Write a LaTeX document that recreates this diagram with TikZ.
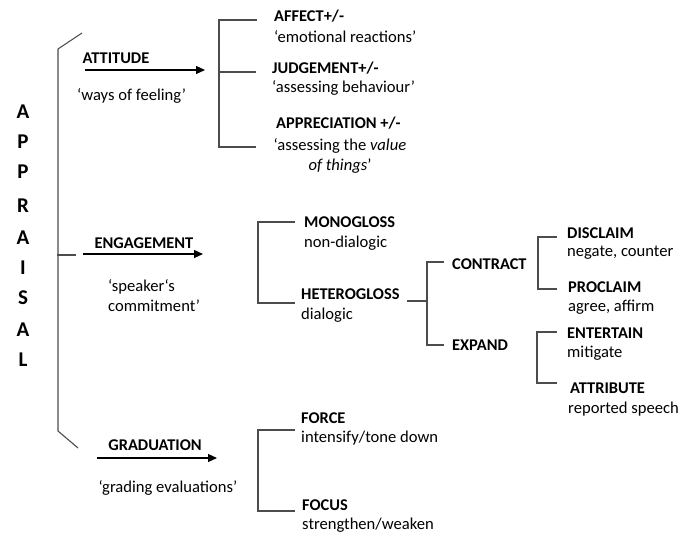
\documentclass[tikz,border=0pt]{standalone}
\usepackage{fontspec}
\setmainfont{Carlito}
\usetikzlibrary{arrows.meta}
\tikzset{
  brk/.style={draw=black!70, line width=1.1pt},
  arr/.style={draw=black, line width=1.1pt, -{Triangle[length=9pt,width=8pt]}},
  ttl/.style={font=\fontsize{16.4}{18}\selectfont\bfseries, inner sep=0pt, anchor=west},
  dsc/.style={font=\fontsize{16.6}{20}\selectfont, inner sep=0pt, anchor=west},
  big/.style={font=\fontsize{21}{22}\selectfont\bfseries, inner sep=0pt}
}
\begin{document}
\begin{tikzpicture}[x=1pt,y=-1pt]
\useasboundingbox (0,0) rectangle (687,541);
% APPRAISAL
\foreach \l/\yy [count=\i] in {A/112,P/142,P/172,R/206,A/238,I/268,S/298,A/330,L/360}
  \node[big] (ap\i) at (23,\yy) {\l};
% left bracket
\coordinate (lb0) at (82,33);
\coordinate (lb1) at (58,49);
\coordinate (lb2) at (58,431);
\coordinate (lb3) at (78,448);
\draw[brk] (lb0) -- (lb1) -- (lb2) -- (lb3);
% ATTITUDE
\node[ttl, anchor=center] (att) at (116,58) {ATTITUDE};
\coordinate (atts) at (85,70);
\coordinate (atte) at (205,70);
\draw[arr] (atts) -- (atte);
\node[dsc] (attd) at (77,96) {‘ways of feeling’};
% attitude bracket
\coordinate (ab1) at (219,20);
\coordinate (ab2) at (219,147);
\coordinate (abm) at (219,72);
\coordinate (ab1e) at (257,20);
\coordinate (abme) at (256,72);
\coordinate (ab2e) at (256,147);
\draw[brk] (ab1e) -- (ab1) -- (ab2) -- (ab2e);
\draw[brk] (abm) -- (abme);
\node[ttl] (aff) at (274,16) {AFFECT+/-};
\node[dsc] (affd) at (274,37) {‘emotional reactions’};
\node[ttl] (jud) at (272,68) {JUDGEMENT+/-};
\node[dsc] (judd) at (272,88) {‘assessing behaviour’};
\node[ttl] (app) at (276,123) {APPRECIATION +/-};
\node[dsc, anchor=center, align=center] (appd) at (340,156) {‘assessing the \textit{value}\\\textit{of things}’};
% ENGAGEMENT
\coordinate (ed1) at (57,255);
\coordinate (ed2) at (76,255);
\draw[brk] (ed1) -- (ed2);
\coordinate (engs) at (83,254);
\coordinate (enge) at (203,254);
\draw[arr] (engs) -- (enge);
\node[ttl, anchor=center] (eng) at (144,243) {ENGAGEMENT};
\node[dsc, align=left] (engd) at (108,296) {‘speaker\symbol{96}s\\commitment’};
% engagement bracket
\coordinate (eb1) at (258,222);
\coordinate (eb2) at (258,303);
\coordinate (eb1e) at (295,222);
\coordinate (eb2e) at (295,303);
\draw[brk] (eb1e) -- (eb1) -- (eb2) -- (eb2e);
\node[ttl] (mono) at (304,222) {MONOGLOSS};
\node[dsc] (monod) at (304,243) {non-dialogic};
\node[ttl] (het) at (301,294) {HETEROGLOSS};
\node[dsc] (hetd) at (301,315) {dialogic};
% heterogloss bracket
\coordinate (hs) at (407,301);
\coordinate (hm) at (427,301);
\coordinate (hb1) at (427,262);
\coordinate (hb2) at (427,345);
\coordinate (hb1e) at (444,262);
\coordinate (hb2e) at (444,345);
\draw[brk] (hs) -- (hm);
\draw[brk] (hb1e) -- (hb1) -- (hb2) -- (hb2e);
\node[ttl] (con) at (452,264) {CONTRACT};
\node[ttl] (exp) at (452,345) {EXPAND};
% contract bracket
\coordinate (cb1) at (538,237);
\coordinate (cb2) at (538,289);
\coordinate (cb1e) at (557,237);
\coordinate (cb2e) at (557,289);
\draw[brk] (cb1e) -- (cb1) -- (cb2) -- (cb2e);
\node[ttl] (dis) at (567,233) {DISCLAIM};
\node[dsc] (disd) at (567,253) {negate, counter};
\node[ttl] (pro) at (568,287) {PROCLAIM};
\node[dsc] (prod) at (568,307) {agree, affirm};
% expand bracket
\coordinate (xb1) at (537,332);
\coordinate (xb2) at (537,383);
\coordinate (xb1e) at (557,332);
\coordinate (xb2e) at (557,383);
\draw[brk] (xb1e) -- (xb1) -- (xb2) -- (xb2e);
\node[ttl] (ent) at (567,333) {ENTERTAIN};
\node[dsc] (entd) at (567,353) {mitigate};
\node[ttl] (atr) at (570,388) {ATTRIBUTE};
\node[dsc] (atrd) at (568,409) {reported speech};
% GRADUATION
\coordinate (grs) at (97,458);
\coordinate (gre) at (217,458);
\draw[arr] (grs) -- (gre);
\node[ttl, anchor=center] (gra) at (155,445) {GRADUATION};
\node[dsc, anchor=center] (grad) at (168,488) {‘grading evaluations’};
% graduation bracket
\coordinate (gb1) at (258,430);
\coordinate (gb2) at (258,511);
\coordinate (gb1e) at (295,430);
\coordinate (gb2e) at (295,511);
\draw[brk] (gb1e) -- (gb1) -- (gb2) -- (gb2e);
\node[ttl] (for) at (301,418) {FORCE};
\node[dsc] (ford) at (301,438) {intensify/tone down};
\node[ttl] (foc) at (302,505) {FOCUS};
\node[dsc] (focd) at (302,525) {strengthen/weaken};
\end{tikzpicture}
\end{document}
